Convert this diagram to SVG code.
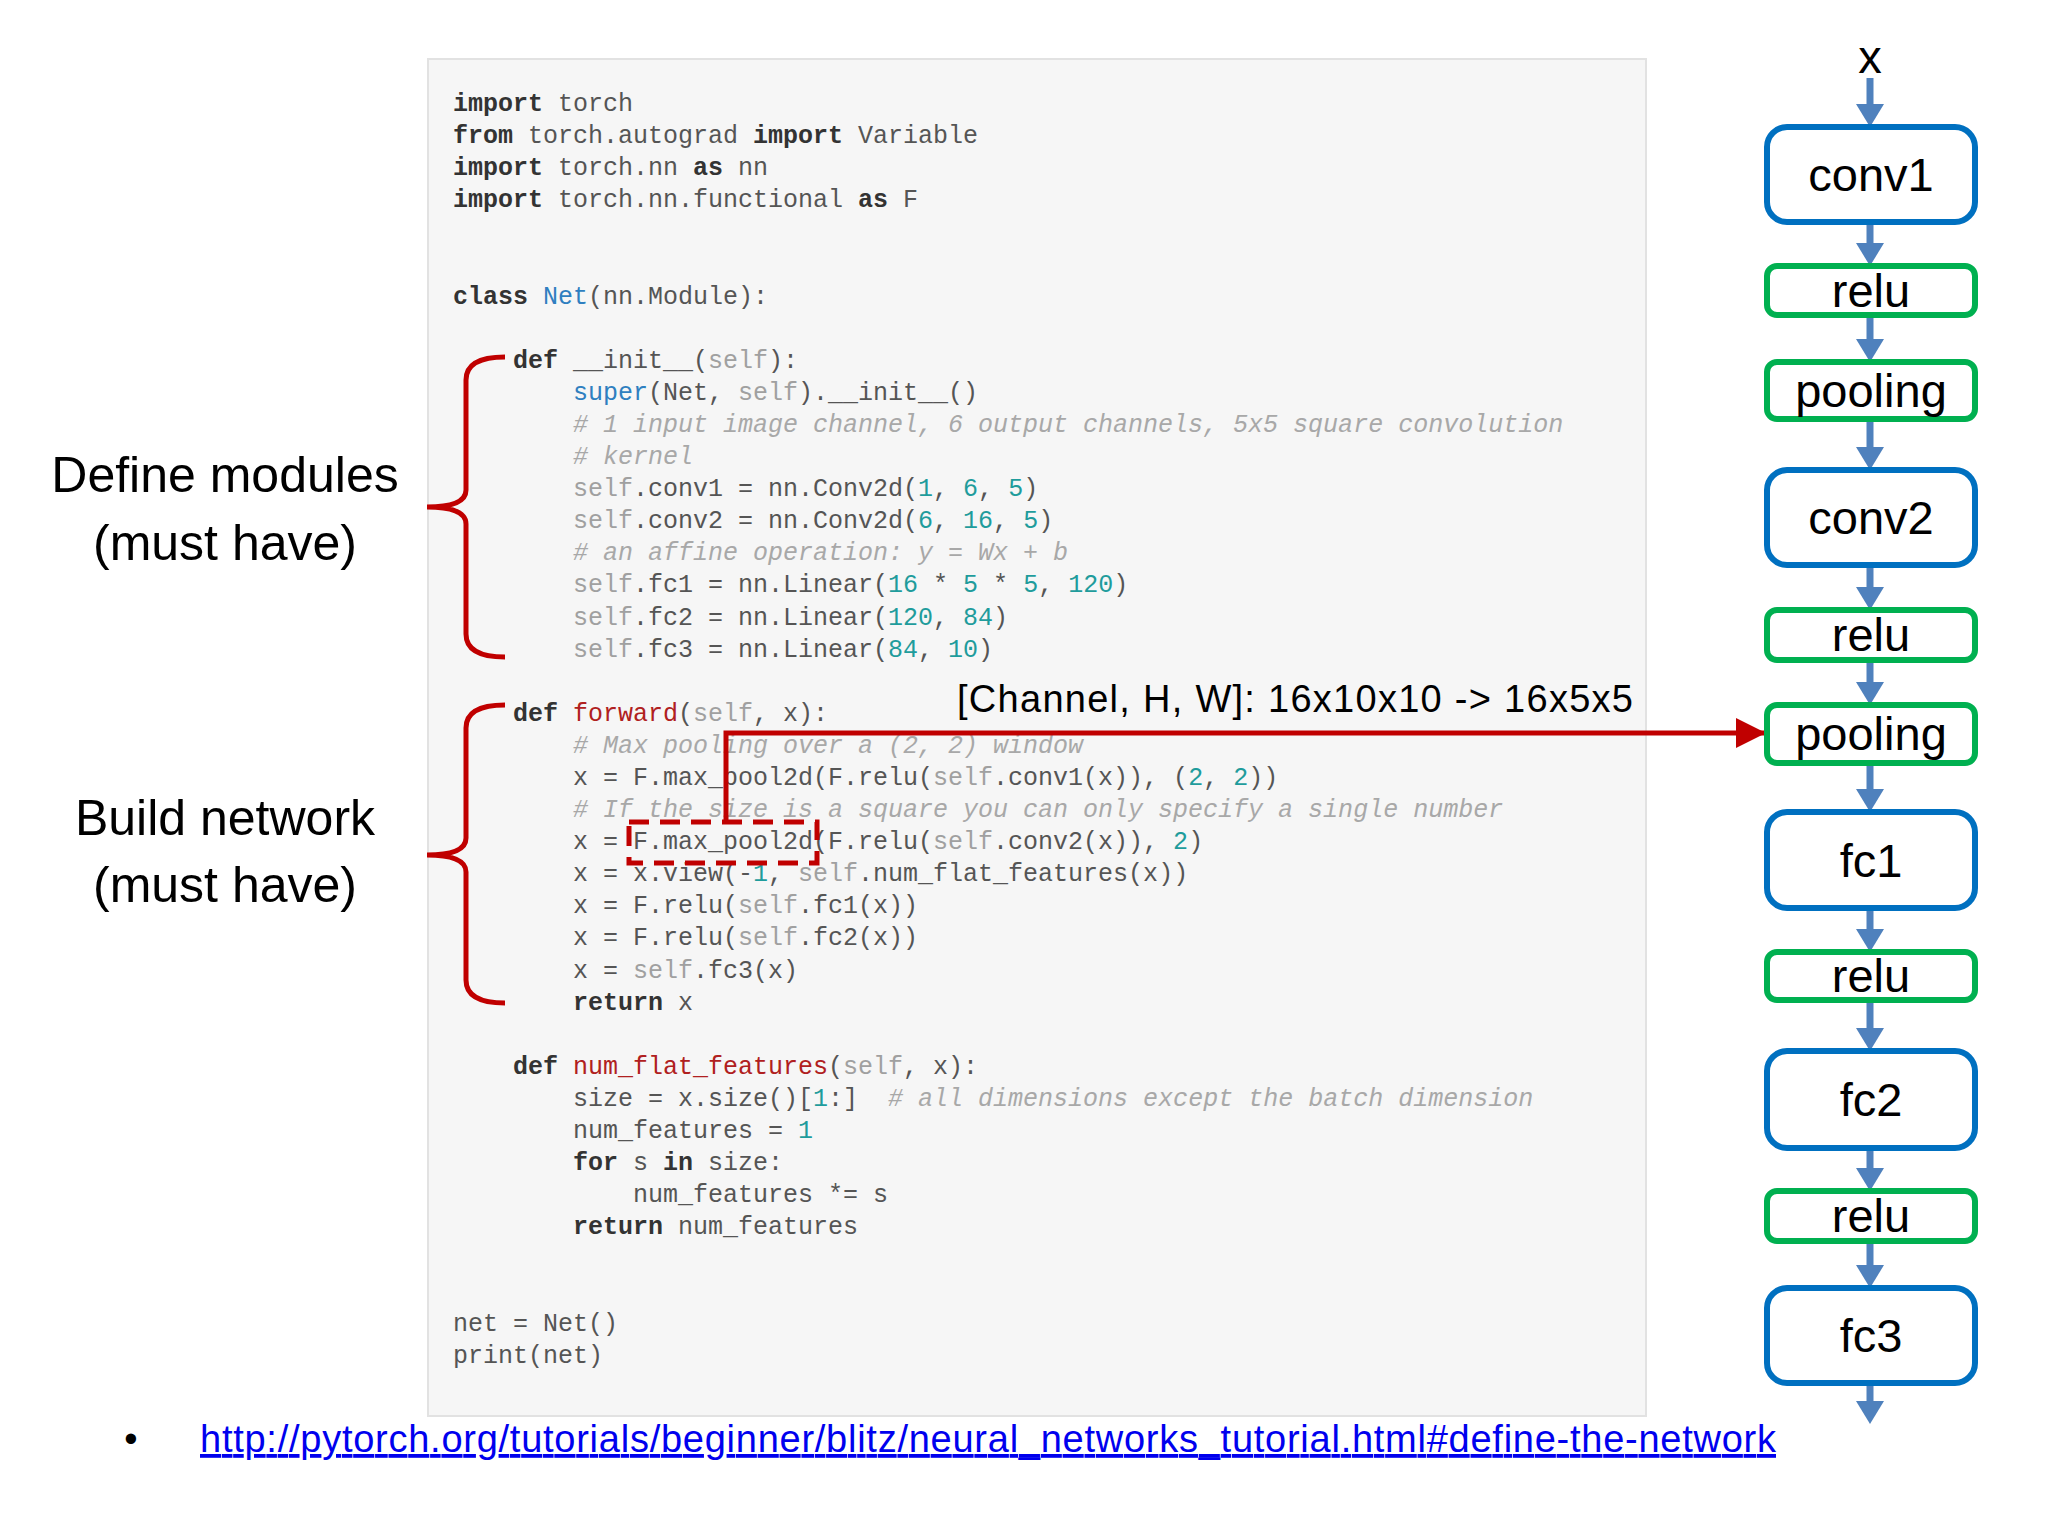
<svg xmlns="http://www.w3.org/2000/svg" width="2048" height="1536" viewBox="0 0 2048 1536">
<style>
.code{font-family:"Liberation Mono",monospace;font-size:25px;fill:#555}
.k{font-weight:bold;fill:#333}
.s{fill:#a0a0a0}
.c{font-style:italic;fill:#a8a8a8}
.n{fill:#1f9c9c}
.f{fill:#b02020}
.b{fill:#2f7fc0}
.lbl{font-family:"Liberation Sans",Arial,sans-serif;font-size:50px;fill:#000;text-anchor:middle}
.nt{font-family:"Liberation Sans",Arial,sans-serif;font-size:47px;fill:#000;text-anchor:middle}
.blue{fill:#fff;stroke:#0070c0;stroke-width:6}
.green{fill:#fff;stroke:#00b050;stroke-width:6}
.brace{fill:none;stroke:#c00000;stroke-width:5}
.sh{stroke:#4f81bd;stroke-width:7}
.hd{fill:#4f81bd}
</style>
<defs>
<marker id="ra" viewBox="0 0 10 10" refX="10" refY="5" markerWidth="6" markerHeight="6" orient="auto" markerUnits="strokeWidth"><path d="M0,0 L10,5 L0,10 z" fill="#c00000"/></marker>
</defs>
<rect width="2048" height="1536" fill="#fff"/>
<g id="code">
<rect x="428" y="59" width="1218" height="1357" fill="#f6f6f6" stroke="#e2e2e2" stroke-width="2"/>
<text class="code" xml:space="preserve">
<tspan x="453" y="111"><tspan class="k">import</tspan> torch</tspan>
<tspan x="453" y="143.1"><tspan class="k">from</tspan> torch.autograd <tspan class="k">import</tspan> Variable</tspan>
<tspan x="453" y="175.2"><tspan class="k">import</tspan> torch.nn <tspan class="k">as</tspan> nn</tspan>
<tspan x="453" y="207.3"><tspan class="k">import</tspan> torch.nn.functional <tspan class="k">as</tspan> F</tspan>
<tspan x="453" y="303.5"><tspan class="k">class</tspan> <tspan class="b">Net</tspan>(nn.Module):</tspan>
<tspan x="513" y="367.7"><tspan class="k">def</tspan> __init__(<tspan class="s">self</tspan>):</tspan>
<tspan x="573" y="399.8"><tspan class="b">super</tspan>(Net, <tspan class="s">self</tspan>).__init__()</tspan>
<tspan x="573" y="431.9" class="c"># 1 input image channel, 6 output channels, 5x5 square convolution</tspan>
<tspan x="573" y="464" class="c"># kernel</tspan>
<tspan x="573" y="496.1"><tspan class="s">self</tspan>.conv1 = nn.Conv2d(<tspan class="n">1</tspan>, <tspan class="n">6</tspan>, <tspan class="n">5</tspan>)</tspan>
<tspan x="573" y="528.2"><tspan class="s">self</tspan>.conv2 = nn.Conv2d(<tspan class="n">6</tspan>, <tspan class="n">16</tspan>, <tspan class="n">5</tspan>)</tspan>
<tspan x="573" y="560.3" class="c"># an affine operation: y = Wx + b</tspan>
<tspan x="573" y="592.4"><tspan class="s">self</tspan>.fc1 = nn.Linear(<tspan class="n">16</tspan> * <tspan class="n">5</tspan> * <tspan class="n">5</tspan>, <tspan class="n">120</tspan>)</tspan>
<tspan x="573" y="624.5"><tspan class="s">self</tspan>.fc2 = nn.Linear(<tspan class="n">120</tspan>, <tspan class="n">84</tspan>)</tspan>
<tspan x="573" y="656.5"><tspan class="s">self</tspan>.fc3 = nn.Linear(<tspan class="n">84</tspan>, <tspan class="n">10</tspan>)</tspan>
<tspan x="513" y="720.7"><tspan class="k">def</tspan> <tspan class="f">forward</tspan>(<tspan class="s">self</tspan>, x):</tspan>
<tspan x="573" y="752.8" class="c"># Max pooling over a (2, 2) window</tspan>
<tspan x="573" y="784.9">x = F.max_pool2d(F.relu(<tspan class="s">self</tspan>.conv1(x)), (<tspan class="n">2</tspan>, <tspan class="n">2</tspan>))</tspan>
<tspan x="573" y="817" class="c"># If the size is a square you can only specify a single number</tspan>
<tspan x="573" y="849.1">x = F.max_pool2d(F.relu(<tspan class="s">self</tspan>.conv2(x)), <tspan class="n">2</tspan>)</tspan>
<tspan x="573" y="881.2">x = x.view(-<tspan class="n">1</tspan>, <tspan class="s">self</tspan>.num_flat_features(x))</tspan>
<tspan x="573" y="913.3">x = F.relu(<tspan class="s">self</tspan>.fc1(x))</tspan>
<tspan x="573" y="945.4">x = F.relu(<tspan class="s">self</tspan>.fc2(x))</tspan>
<tspan x="573" y="977.5">x = <tspan class="s">self</tspan>.fc3(x)</tspan>
<tspan x="573" y="1009.6"><tspan class="k">return</tspan> x</tspan>
<tspan x="513" y="1073.8"><tspan class="k">def</tspan> <tspan class="f">num_flat_features</tspan>(<tspan class="s">self</tspan>, x):</tspan>
<tspan x="573" y="1105.8">size = x.size()[<tspan class="n">1</tspan>:]  <tspan class="c"># all dimensions except the batch dimension</tspan></tspan>
<tspan x="573" y="1137.9">num_features = <tspan class="n">1</tspan></tspan>
<tspan x="573" y="1170"><tspan class="k">for</tspan> s <tspan class="k">in</tspan> size:</tspan>
<tspan x="633" y="1202.1">num_features *= s</tspan>
<tspan x="573" y="1234.2"><tspan class="k">return</tspan> num_features</tspan>
<tspan x="453" y="1330.5">net = Net()</tspan>
<tspan x="453" y="1362.6">print(net)</tspan>
</text>
</g>
<g id="labels">
<text class="lbl" x="225" y="492">Define modules</text>
<text class="lbl" x="225" y="560">(must have)</text>
<text class="lbl" x="225" y="835">Build network</text>
<text class="lbl" x="225" y="902">(must have)</text>
<path class="brace" d="M505,357 Q466,357 466,380 L466,490 Q466,507 427,507 Q466,507 466,524 L466,634 Q466,657 505,657"/>
<path class="brace" d="M505,705 Q466,705 466,728 L466,838 Q466,855 427,855 Q466,855 466,872 L466,980 Q466,1003 505,1003"/>
<text x="957" y="712" font-family="'Liberation Sans',Arial,sans-serif" font-size="38" fill="#000" textLength="676">[Channel, H, W]: 16x10x10 -&gt; 16x5x5</text>
<text x="131" y="1452" font-family="'Liberation Sans',Arial,sans-serif" font-size="38" fill="#000" text-anchor="middle">•</text>
<text x="200" y="1452" font-family="'Liberation Sans',Arial,sans-serif" font-size="38" fill="#0000ee" text-decoration="underline" textLength="1576">http://pytorch.org/tutorials/beginner/blitz/neural_networks_tutorial.html#define-the-network</text>
</g>
<g id="connectors">
<rect x="629" y="822" width="188" height="41" fill="none" stroke="#c00000" stroke-width="5" stroke-dasharray="20,11"/>
<path d="M726,822 L726,733 L1766,733" fill="none" stroke="#c00000" stroke-width="5" marker-end="url(#ra)"/>
<text class="nt" x="1870" y="73" font-size="44">x</text>
<g class="sh">
<line x1="1870" y1="78" x2="1870" y2="108"/>
<line x1="1870" y1="222" x2="1870" y2="247"/>
<line x1="1870" y1="315" x2="1870" y2="343"/>
<line x1="1870" y1="419" x2="1870" y2="451"/>
<line x1="1870" y1="565" x2="1870" y2="591"/>
<line x1="1870" y1="660" x2="1870" y2="686"/>
<line x1="1870" y1="763" x2="1870" y2="793"/>
<line x1="1870" y1="908" x2="1870" y2="933"/>
<line x1="1870" y1="1000" x2="1870" y2="1032"/>
<line x1="1870" y1="1148" x2="1870" y2="1172"/>
<line x1="1870" y1="1241" x2="1870" y2="1269"/>
<line x1="1870" y1="1383" x2="1870" y2="1405"/>
</g>
<g class="hd">
<polygon points="1856,104 1884,104 1870,127"/>
<polygon points="1856,243 1884,243 1870,266"/>
<polygon points="1856,339 1884,339 1870,362"/>
<polygon points="1856,447 1884,447 1870,470"/>
<polygon points="1856,587 1884,587 1870,610"/>
<polygon points="1856,682 1884,682 1870,705"/>
<polygon points="1856,789 1884,789 1870,812"/>
<polygon points="1856,929 1884,929 1870,952"/>
<polygon points="1856,1028 1884,1028 1870,1051"/>
<polygon points="1856,1168 1884,1168 1870,1191"/>
<polygon points="1856,1265 1884,1265 1870,1288"/>
<polygon points="1856,1401 1884,1401 1870,1424"/>
</g>
</g>
<g id="conv1"><rect class="blue" x="1767" y="127" width="208" height="95" rx="20"/><text class="nt" x="1871" y="191">conv1</text></g>
<g id="relu1"><rect class="green" x="1767" y="266" width="208" height="49" rx="10"/><text class="nt" x="1871" y="307">relu</text></g>
<g id="pool1"><rect class="green" x="1767" y="362" width="208" height="57" rx="10"/><text class="nt" x="1871" y="407">pooling</text></g>
<g id="conv2"><rect class="blue" x="1767" y="470" width="208" height="95" rx="20"/><text class="nt" x="1871" y="534">conv2</text></g>
<g id="relu2"><rect class="green" x="1767" y="610" width="208" height="50" rx="10"/><text class="nt" x="1871" y="651">relu</text></g>
<g id="pool2"><rect class="green" x="1767" y="705" width="208" height="58" rx="10"/><text class="nt" x="1871" y="750">pooling</text></g>
<g id="fc1"><rect class="blue" x="1767" y="812" width="208" height="96" rx="20"/><text class="nt" x="1871" y="877">fc1</text></g>
<g id="relu3"><rect class="green" x="1767" y="952" width="208" height="48" rx="10"/><text class="nt" x="1871" y="992">relu</text></g>
<g id="fc2"><rect class="blue" x="1767" y="1051" width="208" height="97" rx="20"/><text class="nt" x="1871" y="1116">fc2</text></g>
<g id="relu4"><rect class="green" x="1767" y="1191" width="208" height="50" rx="10"/><text class="nt" x="1871" y="1232">relu</text></g>
<g id="fc3"><rect class="blue" x="1767" y="1288" width="208" height="95" rx="20"/><text class="nt" x="1871" y="1352">fc3</text></g>
</svg>
